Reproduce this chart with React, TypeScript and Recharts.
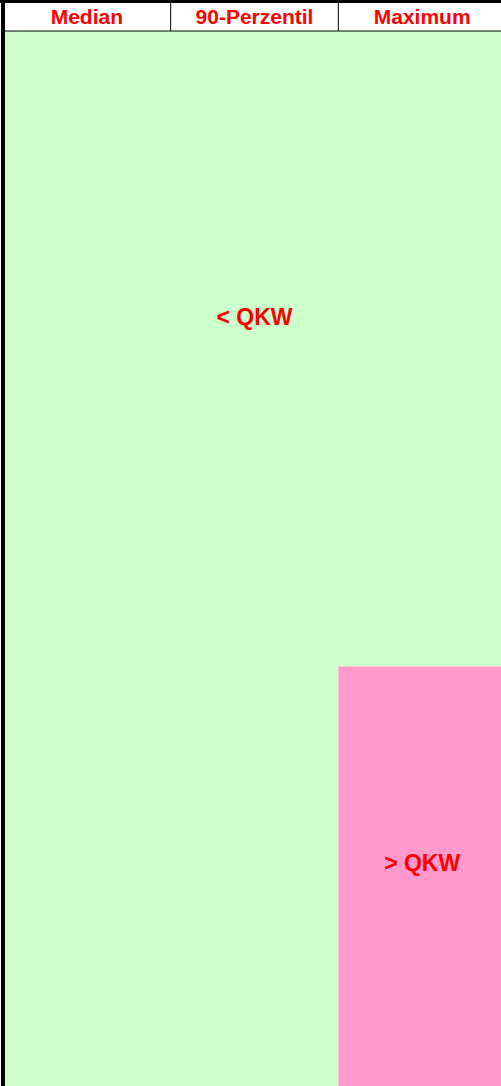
import React from 'react'
import { BarChart, Bar, XAxis, YAxis, ReferenceDot, Label } from 'recharts'

// Spalten (Kennwerte) und Anteile unter / über QKW
const kategorien = ['Median', '90-Perzentil', 'Maximum']
const unterQKW = [35, 35, 21]
const ueberQKW = [0, 0, 14]
const yTicks = [
  0, 1, 2, 3, 4, 5, 6, 7, 8, 9, 10, 11, 12, 13, 14, 15, 16, 17,
  18, 19, 20, 21, 22, 23, 24, 25, 26, 27, 28, 29, 30, 31, 32, 33, 34, 35
]
const labelTexte = ['< QKW', '> QKW']
const labelKategorien = ['90-Perzentil', 'Maximum']
const labelWerte = [9.45, 27.5]

const chartData = kategorien.map((name, i) => ({
  name,
  unter: unterQKW[i],
  ueber: ueberQKW[i]
}))

const CHART_W = 506
const CHART_H = 1087
const Y_W = 3
const HEADER_H = 28
const FONT = '"Liberation Sans", Arial, sans-serif'
const bandW = (CHART_W - Y_W) / kategorien.length

const HeaderTick = (props: any) => {
  const { x, payload, index } = props
  return (
    <g>
      <line x1={x + bandW / 2} x2={x + bandW / 2} y1={0} y2={HEADER_H} stroke="#000" strokeWidth={1} />
      {index === 0 && (
        <line x1={x - bandW / 2} x2={x - bandW / 2} y1={0} y2={HEADER_H} stroke="#000" strokeWidth={4} />
      )}
      <text
        x={x}
        y={20.5}
        textAnchor="middle"
        fill="#FF0000"
        fontSize={21}
        fontWeight="bold"
        fontFamily={FONT}
      >
        {payload.value}
      </text>
    </g>
  )
}

const App = () => {
  return (
    <div
      style={{
        position: 'absolute',
        left: 0,
        top: 0,
        width: 501,
        height: 1083,
        overflow: 'hidden',
        background: '#fff',
        borderTop: '3px solid #000'
      }}
    >
      <BarChart
        width={CHART_W}
        height={CHART_H}
        data={chartData}
        margin={{ top: 0, right: 0, bottom: 0, left: 0 }}
        barCategoryGap={0}
        barGap={0}
      >
        <Bar dataKey="unter" stackId="a" fill="#CCFFCC" isAnimationActive={false} />
        <Bar dataKey="ueber" stackId="a" fill="#FF99CC" isAnimationActive={false} />
        {labelTexte.map((t, i) => (
          <ReferenceDot
            key={t}
            x={labelKategorien[i]}
            y={labelWerte[i]}
            r={0}
            fill="none"
            stroke="none"
          >
            <Label
              value={t}
              position="center"
              fill="#FF0000"
              fontSize={23}
              fontWeight="bold"
              fontFamily={FONT}
            />
          </ReferenceDot>
        ))}
        <XAxis
          dataKey="name"
          orientation="top"
          height={HEADER_H}
          interval={0}
          tickLine={false}
          axisLine={{ stroke: '#000', strokeWidth: 1 }}
          tick={HeaderTick}
        />
        <YAxis
          type="number"
          width={Y_W}
          domain={[0, 35]}
          ticks={yTicks}
          reversed
          allowDataOverflow
          tick={false}
          tickSize={3}
          tickLine={{ stroke: '#000', strokeWidth: 1 }}
          axisLine={{ stroke: '#000', strokeWidth: 4 }}
        />
      </BarChart>
    </div>
  )
}

export default App
